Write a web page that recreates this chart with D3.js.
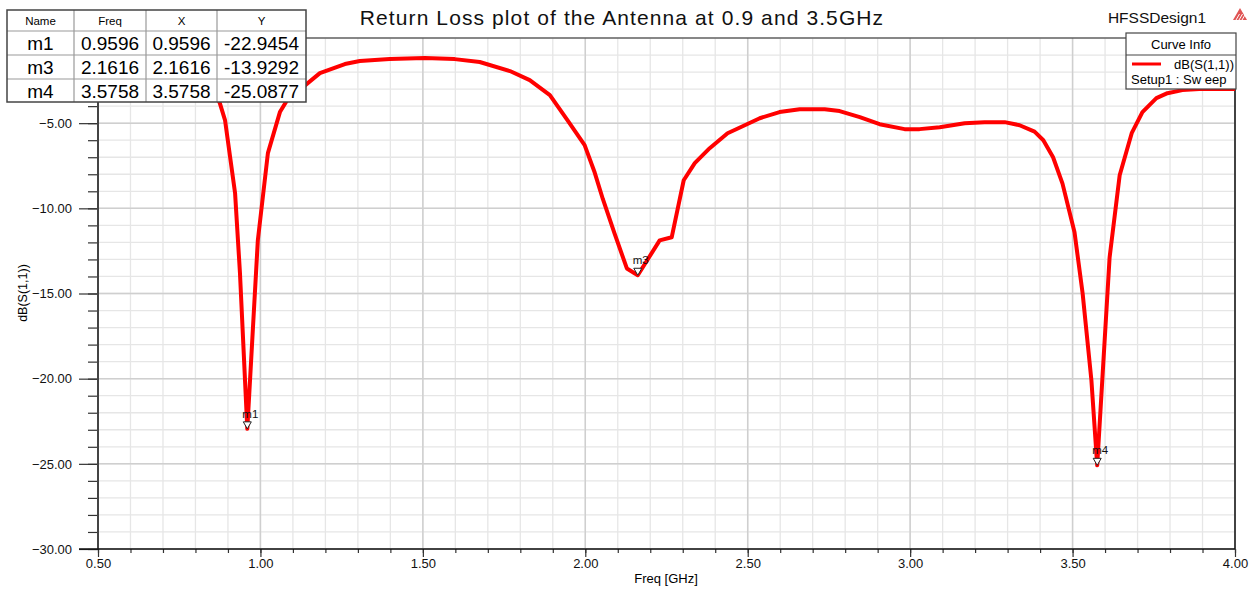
<!DOCTYPE html>
<html><head><meta charset="utf-8">
<script src="https://cdn.jsdelivr.net/npm/d3@7"></script>
<style>body{margin:0;background:#fff} text{font-family:"Liberation Sans",Arial,sans-serif}</style>
</head><body><svg id="c" width="1255" height="589"></svg>
<script>
// ---- data ----
const freq = [0.50,0.60,0.70,0.80,0.85,0.875,0.891,0.922,0.937,0.9596,0.992,1.023,1.060,1.082,1.183,1.260,1.306,1.398,1.506,1.598,1.675,1.768,1.829,1.891,1.945,1.998,2.029,2.054,2.090,2.128,2.1616,2.229,2.266,2.303,2.337,2.383,2.438,2.491,2.537,2.598,2.660,2.737,2.783,2.845,2.906,2.983,3.029,3.091,3.168,3.229,3.291,3.337,3.383,3.410,3.440,3.469,3.506,3.531,3.558,3.5758,3.614,3.645,3.682,3.715,3.758,3.792,3.838,3.890,4.00];
const s11  = [-1.2,-1.4,-1.7,-2.2,-2.9,-3.82,-4.82,-9.12,-13.8,-22.9454,-11.88,-6.76,-4.35,-3.65,-2.06,-1.53,-1.35,-1.24,-1.18,-1.24,-1.41,-1.94,-2.47,-3.35,-4.82,-6.29,-7.9,-9.45,-11.47,-13.53,-13.9292,-11.88,-11.7,-8.35,-7.35,-6.47,-5.59,-5.12,-4.71,-4.35,-4.18,-4.18,-4.29,-4.65,-5.06,-5.35,-5.35,-5.24,-5.0,-4.94,-4.94,-5.12,-5.5,-6.0,-7.0,-8.55,-11.41,-15.0,-20.1,-25.0877,-12.88,-8.06,-5.59,-4.35,-3.53,-3.24,-3.06,-3.0,-3.0];
const markerNames = ["m1","m3","m4"];
const markerFreq  = [0.9596, 2.1616, 3.5758];
const markerY     = [-22.9454, -13.9292, -25.0877];
const xTicks = [0.5,1.0,1.5,2.0,2.5,3.0,3.5,4.0];
const yTicks = [-30,-25,-20,-15,-10,-5];
const xMinor = d3.range(5,41).map(v=>v/10);
const yMinor = d3.range(-30,1);
const tableHeader = ["Name","Freq","X","Y"];
const legendName = "dB(S(1,1))";
const legendSetup = "Setup1 : Sw eep";

// ---- drawing ----
const svg = d3.select("#c");
const x = d3.scaleLinear([0.5,4],[98,1235]);
const y = d3.scaleLinear([-30,0],[549,38]);

// grid
svg.append("g").selectAll("line").data(xMinor).join("line")
  .attr("x1",d=>x(d)).attr("x2",d=>x(d)).attr("y1",y(0)).attr("y2",y(-30))
  .attr("stroke","#e6e6e6").attr("stroke-width",1.3);
svg.append("g").selectAll("line").data(yMinor).join("line")
  .attr("y1",d=>y(d)).attr("y2",d=>y(d)).attr("x1",x(0.5)).attr("x2",x(4))
  .attr("stroke","#e6e6e6").attr("stroke-width",1.3);
svg.append("g").selectAll("line").data(xTicks).join("line")
  .attr("x1",d=>x(d)).attr("x2",d=>x(d)).attr("y1",y(0)).attr("y2",y(-30))
  .attr("stroke","#cfcfcf").attr("stroke-width",1.5);
svg.append("g").selectAll("line").data(yTicks).join("line")
  .attr("y1",d=>y(d)).attr("y2",d=>y(d)).attr("x1",x(0.5)).attr("x2",x(4))
  .attr("stroke","#cfcfcf").attr("stroke-width",1.5);

// frame top & right
svg.append("line").attr("x1",x(0.5)).attr("x2",x(4)).attr("y1",y(0)).attr("y2",y(0)).attr("stroke","#222");
svg.append("line").attr("x1",x(4)).attr("x2",x(4)).attr("y1",y(0)).attr("y2",y(-30)).attr("stroke","#111").attr("stroke-width",1.5);

// axes
const fmt = d3.format(".2f");
const yMinorAxis = svg.append("g").attr("transform",`translate(${x(0.5)},0)`)
  .call(d3.axisLeft(y).tickValues(yMinor).tickSize(10).tickFormat(""));
const yAxis = svg.append("g").attr("transform",`translate(${x(0.5)},0)`)
  .call(d3.axisLeft(y).tickValues(yTicks).tickSize(19).tickPadding(7).tickFormat(fmt));
const xMinorAxis = svg.append("g").attr("transform",`translate(0,${y(-30)})`)
  .call(d3.axisBottom(x).tickValues(xMinor).tickSize(4).tickFormat(""));
const xAxis = svg.append("g").attr("transform",`translate(0,${y(-30)})`)
  .call(d3.axisBottom(x).tickValues(xTicks).tickSize(8).tickPadding(2).tickFormat(fmt));
[yMinorAxis,yAxis,xMinorAxis,xAxis].forEach(g=>{
  g.select(".domain").remove();
  g.selectAll(".tick line").attr("stroke","#333").attr("stroke-width",1.2);
  g.selectAll("text").attr("font-size",13).attr("fill","#111")
   .style("font-family","'Liberation Sans',Arial,sans-serif");
});
svg.append("line").attr("x1",x(0.5)).attr("x2",x(0.5)).attr("y1",y(0)).attr("y2",y(-30)).attr("stroke","#444").attr("stroke-width",2);
svg.append("line").attr("x1",x(0.5)-19).attr("x2",x(4)).attr("y1",y(-30)).attr("y2",y(-30)).attr("stroke","#111").attr("stroke-width",1.3);

// axis labels
svg.append("text").attr("x",666).attr("y",583).attr("text-anchor","middle").attr("font-size",13).text("Freq [GHz]");
svg.append("text").attr("transform","translate(27,293) rotate(-90)").attr("text-anchor","middle").attr("font-size",12.5).text("dB(S(1,1))");

// curve
const line = d3.line().x((d,i)=>x(freq[i])).y((d,i)=>y(s11[i]));
svg.append("path").datum(s11).attr("d",line).attr("fill","none")
  .attr("stroke","#ff0000").attr("stroke-width",4).attr("stroke-linejoin","round");

// markers
markerFreq.forEach((f,i)=>{
  const px = x(f), py = y(markerY[i]);
  svg.append("path").attr("d",`M${px-4},${py-7}L${px+4},${py-7}L${px},${py}Z`)
    .attr("fill","#fff").attr("stroke","#222").attr("stroke-width",1);
  svg.append("text").attr("x",px-5).attr("y",py-11).attr("font-size",11.5).attr("fill","#111").text(markerNames[i]);
});

// title
svg.append("text").attr("x",622).attr("y",25).attr("text-anchor","middle").attr("font-size",21).attr("letter-spacing",1.1).attr("fill","#111")
  .text("Return Loss plot of the Antenna at 0.9 and 3.5GHz");
svg.append("text").attr("x",1157).attr("y",23).attr("text-anchor","middle").attr("font-size",15.5).attr("fill","#111").text("HFSSDesign1");
// small logo
const lg = svg.append("g").attr("transform","translate(1233,8)");
lg.append("path").attr("d","M7,0L14,12L0,12Z").attr("fill","#e05555");
[3,6,9].forEach(o=>lg.append("line").attr("x1",o).attr("y1",12).attr("x2",o+3.5).attr("y2",12-6).attr("stroke","#fff").attr("stroke-width",1));

// legend box
const lb = svg.append("g");
lb.append("rect").attr("x",1126).attr("y",33).attr("width",110).attr("height",56).attr("fill","#fff").attr("stroke","#444").attr("stroke-width",1.2);
lb.append("line").attr("x1",1126).attr("x2",1236).attr("y1",55).attr("y2",55).attr("stroke","#444");
lb.append("text").attr("x",1181).attr("y",49).attr("text-anchor","middle").attr("font-size",13).text("Curve Info");
lb.append("line").attr("x1",1132).attr("x2",1161).attr("y1",64).attr("y2",64).attr("stroke","#ff0000").attr("stroke-width",3);
lb.append("text").attr("x",1234).attr("y",68.5).attr("text-anchor","end").attr("font-size",13).text(legendName);
lb.append("text").attr("x",1131).attr("y",84).attr("font-size",13).text(legendSetup);

// marker table
const colX = [7,74,146,217,306];
const rowY = [10,31,55,79,102];
const tb = svg.append("g");
tb.append("rect").attr("x",7).attr("y",10).attr("width",299).attr("height",92).attr("fill","#fff");
const rows = markerNames.map((n,i)=>[n, markerFreq[i].toFixed(4), markerFreq[i].toFixed(4), markerY[i].toFixed(4)]);
colX.slice(1,-1).forEach(cx=>tb.append("line").attr("x1",cx).attr("x2",cx).attr("y1",10).attr("y2",102).attr("stroke","#999").attr("stroke-width",1.2));
rowY.slice(1,-1).forEach(ry=>tb.append("line").attr("x1",7).attr("x2",306).attr("y1",ry).attr("y2",ry).attr("stroke","#999").attr("stroke-width",1.2));
tb.append("rect").attr("x",7).attr("y",10).attr("width",299).attr("height",92).attr("fill","none").attr("stroke","#444").attr("stroke-width",1.5);
tableHeader.forEach((h,j)=>tb.append("text").attr("x",(colX[j]+colX[j+1])/2).attr("y",25).attr("text-anchor","middle").attr("font-size",11.5).text(h));
rows.forEach((r,i)=>r.forEach((v,j)=>tb.append("text").attr("x",(colX[j]+colX[j+1])/2).attr("y",(rowY[i+1]+rowY[i+2])/2+7)
  .attr("text-anchor","middle").attr("font-size",19).text(v)));
</script></body></html>
